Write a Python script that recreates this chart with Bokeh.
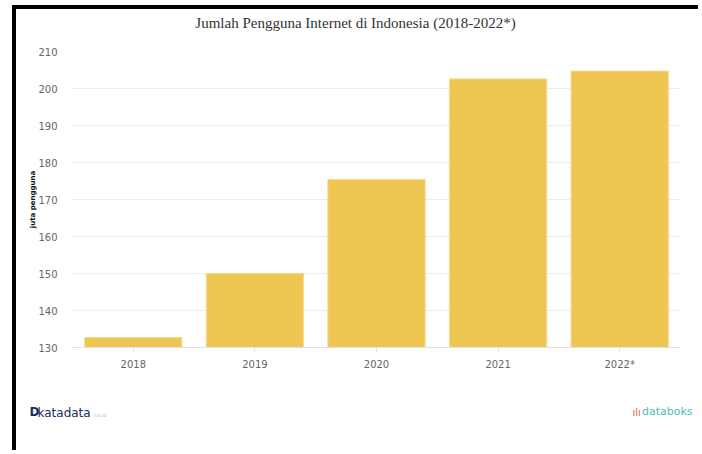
from bokeh.plotting import figure
from bokeh.models import Range1d, FixedTicker, Label, ColumnDataSource
from bokeh.embed import file_html
from bokeh.resources import INLINE

years = ["2018", "2019", "2020", "2021", "2022*"]
users = [132.7, 150.0, 175.4, 202.6, 204.7]
y_ticks = [130, 140, 150, 160, 170, 180, 190, 200, 210]

title_text = "Jumlah Pengguna Internet di Indonesia (2018-2022*)"
y_title = "juta pengguna"

# the figure sits inside a frame (screenshot border) offset by 16px left / 9px top
W, H = 686, 445
FL, FR, FT, FB = 56, 22, 42, 107

p = figure(width=W, height=H, x_range=years, y_range=Range1d(130, 210),
           output_backend="svg", toolbar_location=None,
           min_border_left=FL, min_border_right=FR, min_border_top=FT, min_border_bottom=FB)
p.styles = {"margin-left": "12px", "margin-top": "5px",
            "border-left": "4px solid #000000", "border-top": "4px solid #000000"}
p.outline_line_color = None
p.background_fill_color = "white"
p.border_fill_color = "white"

src = ColumnDataSource(dict(x=years, top=users))
p.vbar(x="x", top="top", bottom=130, width=0.8, source=src,
       fill_color="#F0C652", line_color="#F6DA8E", line_width=1)

p.xgrid.grid_line_color = None
p.ygrid.grid_line_color = "#ececec"
p.ygrid.grid_line_width = 1

p.yaxis.ticker = FixedTicker(ticks=y_ticks)
p.yaxis.axis_line_color = None
p.yaxis.major_tick_line_color = None
p.yaxis.minor_tick_line_color = None
p.yaxis.major_label_standoff = 9
p.yaxis.major_label_text_font = "DejaVu Sans"
p.yaxis.major_label_text_font_size = "10px"
p.yaxis.major_label_text_color = "#666666"
p.yaxis.axis_label = y_title
p.yaxis.axis_label_text_font = "DejaVu Sans"
p.yaxis.axis_label_text_font_size = "7px"
p.yaxis.axis_label_text_font_style = "bold"
p.yaxis.axis_label_text_color = "#111111"
p.yaxis.axis_label_standoff = -2

p.xaxis.axis_line_color = "#e2e2e2"
p.xaxis.major_tick_line_color = "#e2e2e2"
p.xaxis.major_tick_out = 5
p.xaxis.major_tick_in = 0
p.xaxis.major_label_standoff = 6
p.xaxis.major_label_text_font = "DejaVu Sans"
p.xaxis.major_label_text_font_size = "10px"
p.xaxis.major_label_text_color = "#666666"

# title in a side panel above the frame
p.add_layout(Label(x=283, y=29, x_units="screen", y_units="screen", text=title_text,
                   text_font="Liberation Serif", text_font_size="15px",
                   text_color="#333333", text_align="center", text_baseline="middle"), "above")

# footer logos (as text), placed in side panels below the x axis
def foot(text, x, y, size, color, style="normal", align="left"):
    p.add_layout(Label(x=x, y=y, x_units="screen", y_units="screen", text=text,
                       text_font="DejaVu Sans", text_font_size=size, text_font_style=style,
                       text_color=color, text_align=align, text_baseline="middle"), "below")

foot("D", -43, -25, "12px", "#1d2a5a", "bold")
foot("katadata", -35, -12, "12px", "#1d2a5a")
foot("co.id", 22, -8, "5px", "#b0b4c0")
foot("ılı", 560, 5, "10px", "#e8623c")
foot("databoks", 620, 19, "11px", "#4dbdbd", align="right")

open("out.html", "w").write(file_html(p, INLINE))
